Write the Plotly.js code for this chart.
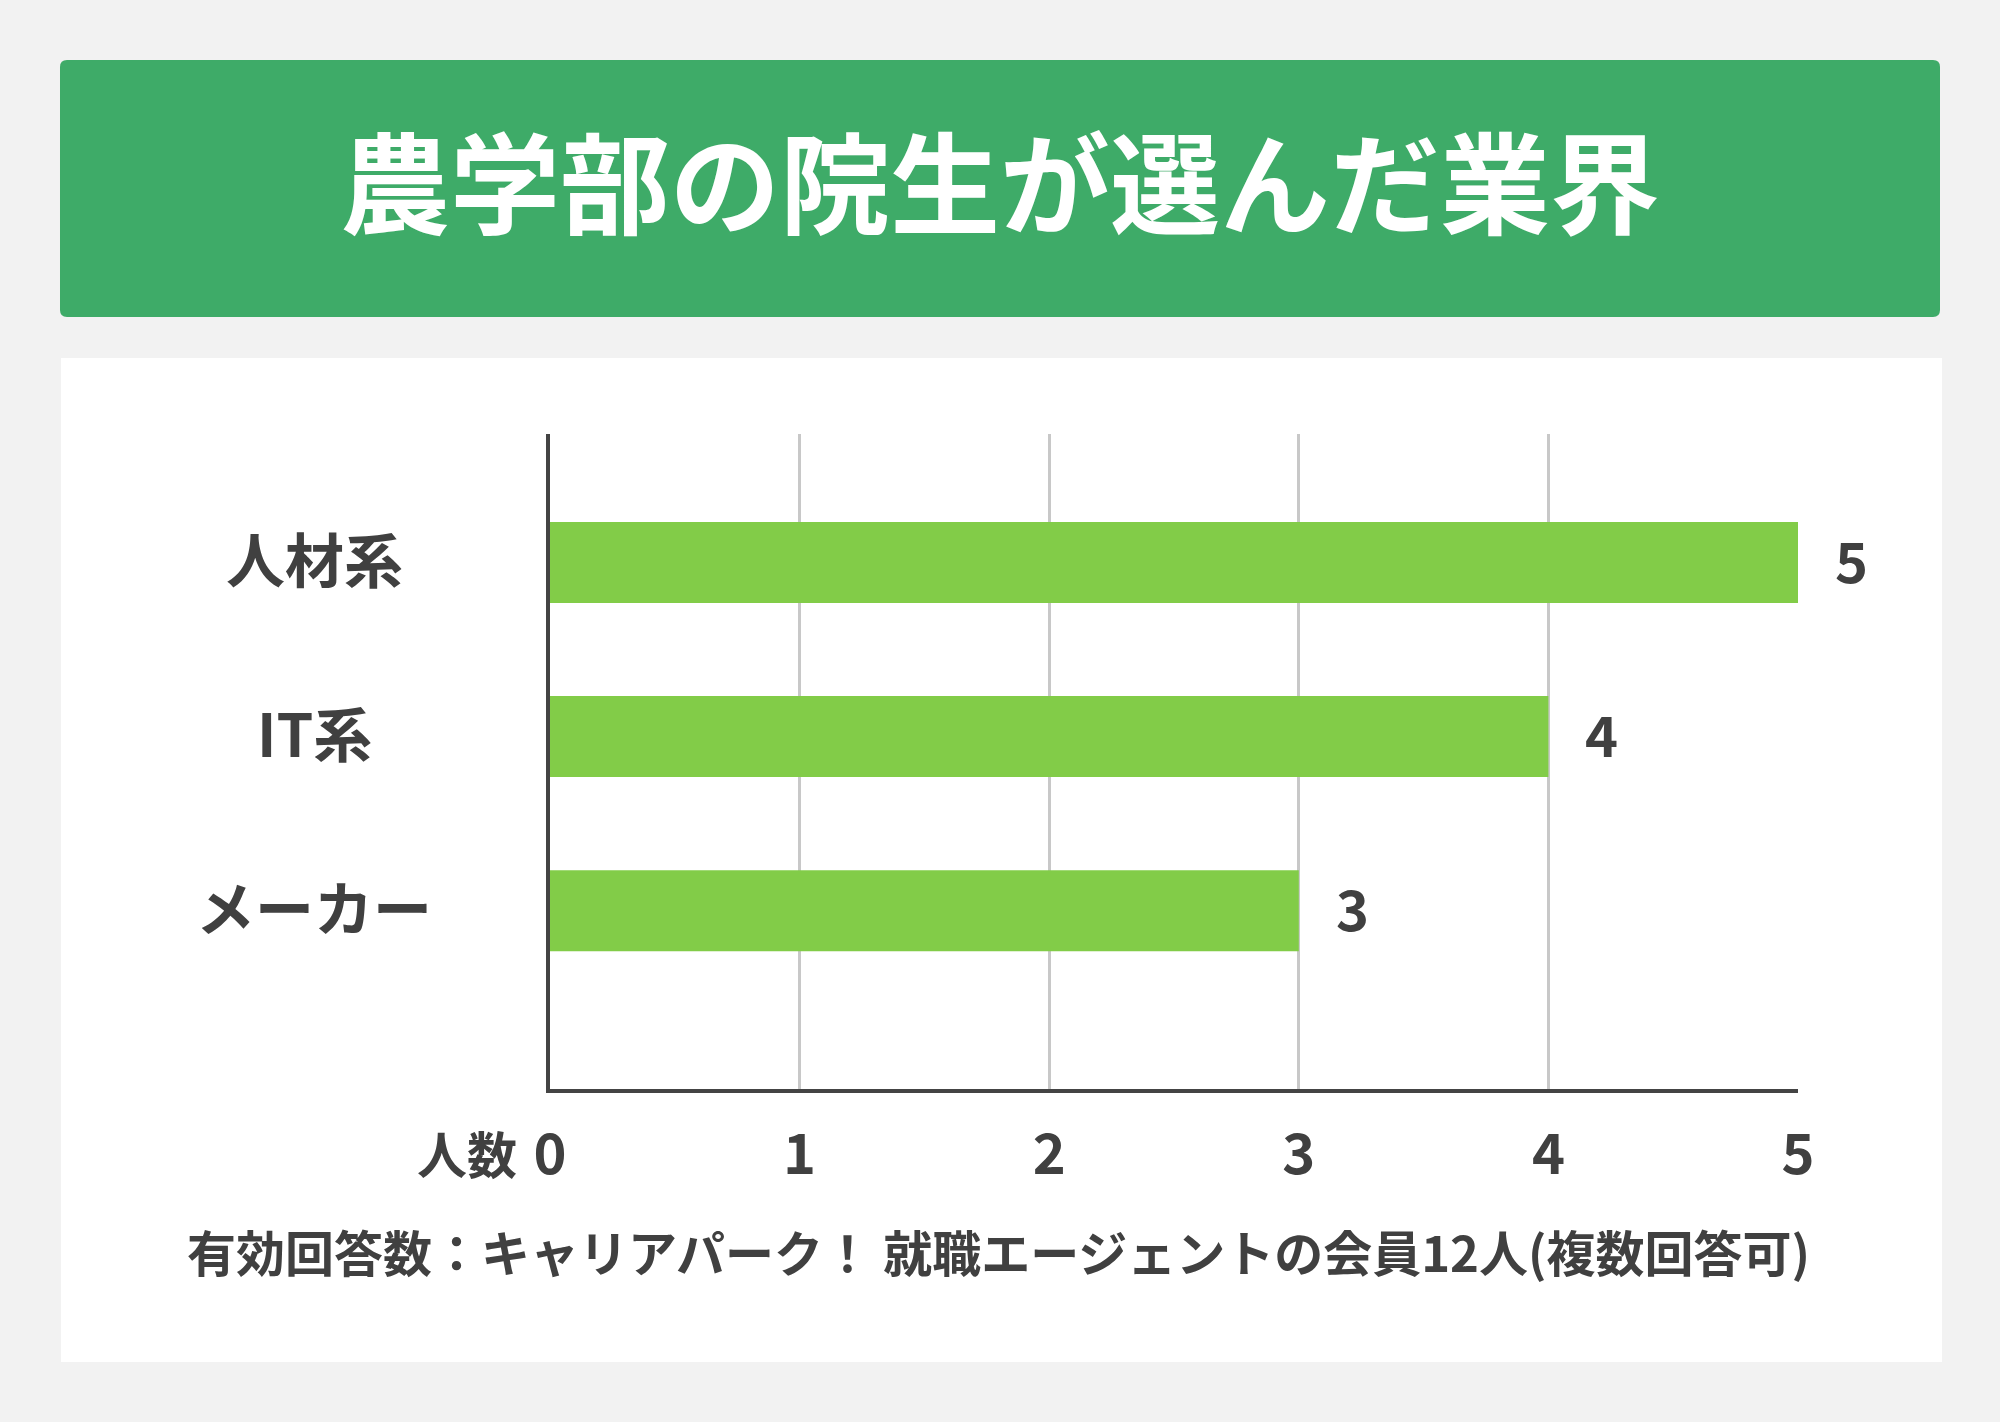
<!DOCTYPE html>
<html>
<head>
<meta charset="utf-8">
<script src="https://cdn.plot.ly/plotly-3.0.1.min.js"></script>
<style>
  html, body { margin: 0; padding: 0; background: #f2f2f2; }
  #chart { width: 2000px; height: 1422px; }
</style>
</head>
<body>
<div id="chart"></div>
<script>
// ---- data ----
const chartTitle = "農学部の院生が選んだ業界";
const categories = ["人材系", "IT系", "メーカー"];
const counts = [5, 4, 3];
const xTickValues = [0, 1, 2, 3, 4, 5];
const xTickLabels = ["0", "1", "2", "3", "4", "5"];
const xAxisLabel = "人数";
const footnote = "有効回答数：キャリアパーク！ 就職エージェントの会員12人(複数回答可)";

// ---- layout geometry (pixels) ----
const W = 2000, H = 1422;
const M = { l: 550, r: 202, t: 434, b: 333 };
const PW = W - M.l - M.r, PH = H - M.t - M.b;
const px = X => (X - M.l) / PW;
const py = Y => 1 - (Y - M.t) / PH;

const FONT = '"Noto Sans CJK JP", "Noto Sans", sans-serif';
const TXT = '#404040';

function roundRect(x0, y0, x1, y1, r) {
  const X = v => px(v).toFixed(5), Y = v => py(v).toFixed(5);
  return `M ${X(x0 + r)} ${Y(y0)} L ${X(x1 - r)} ${Y(y0)} Q ${X(x1)} ${Y(y0)} ${X(x1)} ${Y(y0 + r)} ` +
         `L ${X(x1)} ${Y(y1 - r)} Q ${X(x1)} ${Y(y1)} ${X(x1 - r)} ${Y(y1)} ` +
         `L ${X(x0 + r)} ${Y(y1)} Q ${X(x0)} ${Y(y1)} ${X(x0)} ${Y(y1 - r)} ` +
         `L ${X(x0)} ${Y(y0 + r)} Q ${X(x0)} ${Y(y0)} ${X(x0 + r)} ${Y(y0)} Z`;
}

const shapes = [
  { type: 'path', xref: 'paper', yref: 'paper', path: roundRect(60, 60, 1940, 317, 7),
    fillcolor: '#3eab68', line: { width: 0 }, layer: 'below' },
  { type: 'rect', xref: 'paper', yref: 'paper', x0: px(61), x1: px(1942), y0: py(358), y1: py(1362),
    fillcolor: '#ffffff', line: { width: 0 }, layer: 'below' }
];

const annotations = [];
categories.forEach((c, i) => {
  annotations.push({
    xref: 'paper', yref: 'y', x: px(314), y: c, text: c, showarrow: false,
    xanchor: 'center', yanchor: 'middle', yshift: 5,
    font: { family: FONT, size: 59, color: TXT, weight: 700 }
  });
  annotations.push({
    xref: 'x', yref: 'y', x: counts[i], y: c, text: String(counts[i]), showarrow: false,
    xanchor: 'left', yanchor: 'middle', xshift: 35, yshift: 4,
    font: { family: FONT, size: 56, color: TXT, weight: 700 }
  });
});
annotations.push({
  xref: 'paper', yref: 'paper', x: px(519), y: py(1152), text: xAxisLabel, showarrow: false,
  xanchor: 'right', yanchor: 'middle',
  font: { family: FONT, size: 50, color: TXT, weight: 700 }
});
annotations.push({
  xref: 'paper', yref: 'paper', x: px(998), y: py(1250), text: footnote, showarrow: false,
  xanchor: 'center', yanchor: 'middle',
  font: { family: FONT, size: 49, color: TXT, weight: 700 }
});

const trace = {
  type: 'bar', orientation: 'h',
  x: counts, y: categories,
  marker: { color: '#82cc48', line: { width: 0 } },
  width: 0.465,
  hoverinfo: 'skip'
};

const layout = {
  width: W, height: H,
  margin: M,
  paper_bgcolor: '#f2f2f2',
  plot_bgcolor: 'rgba(0,0,0,0)',
  showlegend: false,
  title: {
    text: chartTitle,
    xref: 'container', yref: 'container', x: 0.5, y: 1 - 187 / H,
    xanchor: 'center', yanchor: 'middle',
    font: { family: FONT, size: 110, color: '#ffffff', weight: 700 }
  },
  xaxis: {
    range: [0, 5], tickvals: xTickValues, ticktext: xTickLabels,
    showgrid: true, gridcolor: '#c8c8c8', gridwidth: 3,
    zeroline: false, showline: true, linecolor: '#444444', linewidth: 4,
    ticks: '', ticklabelstandoff: 14,
    tickfont: { family: FONT, size: 56, color: TXT, weight: 700 },
    fixedrange: true
  },
  yaxis: {
    type: 'category', categoryorder: 'array', categoryarray: categories,
    range: [3.024, -0.738],
    showticklabels: false, showgrid: false, zeroline: false,
    showline: true, linecolor: '#444444', linewidth: 4, ticks: '',
    fixedrange: true
  },
  shapes: shapes,
  annotations: annotations
};

Plotly.newPlot('chart', [trace], layout, { staticPlot: true, displayModeBar: false });
</script>
</body>
</html>
